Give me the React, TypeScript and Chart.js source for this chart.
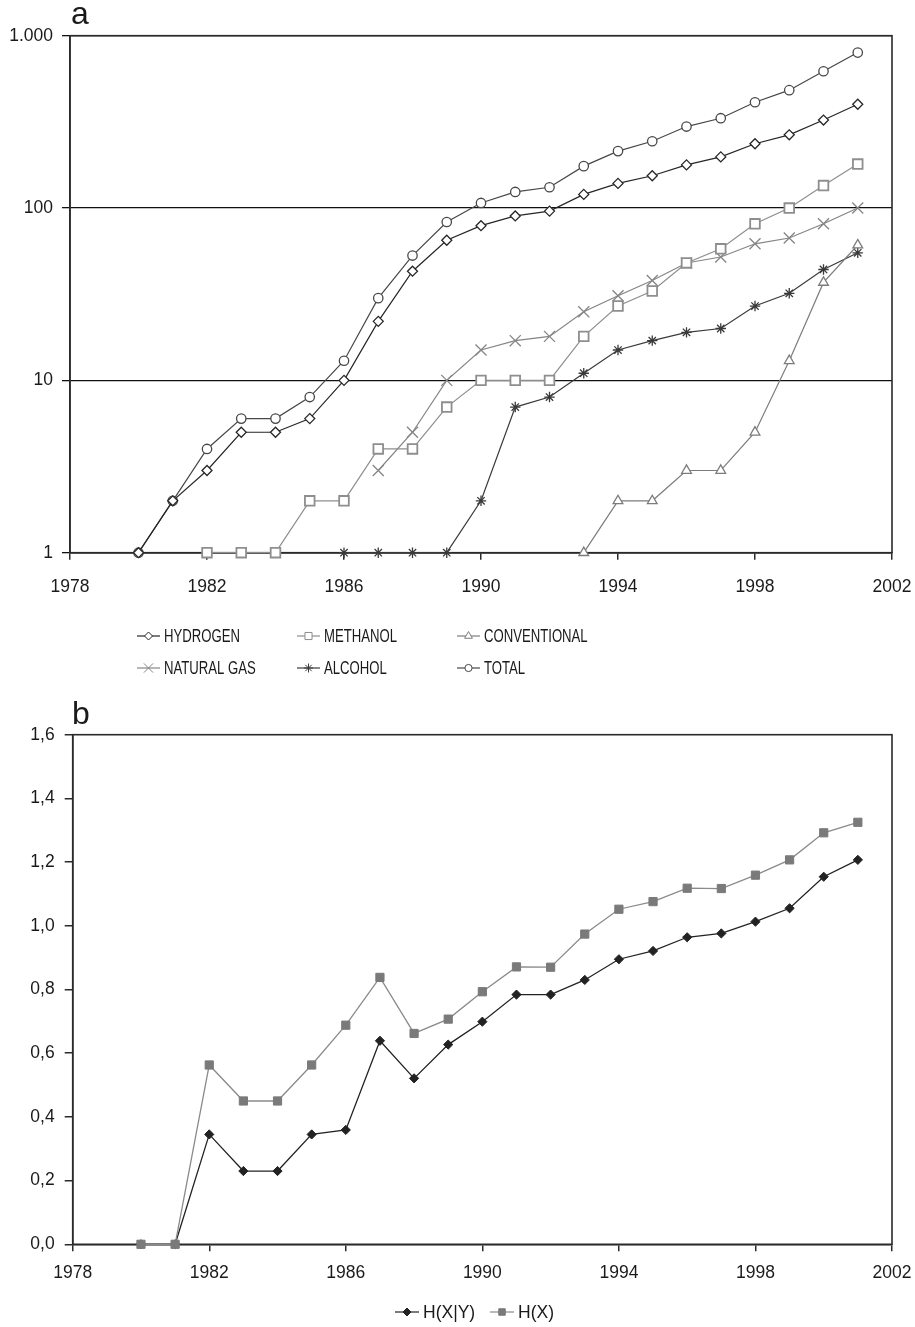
import React, { useEffect, useRef } from 'react';
import { Chart, registerables } from 'chart.js';
import { drawPoint } from 'chart.js/helpers';

Chart.register(...registerables);

// ---------- DATA ----------
const years = [1980, 1981, 1982, 1983, 1984, 1985, 1986, 1987, 1988, 1989, 1990, 1991, 1992, 1993, 1994, 1995, 1996, 1997, 1998, 1999, 2000, 2001];

const hydrogen = [1, 2, 3, 5, 5, 6, 10, 22, 43, 65, 79, 90, 96, 120, 139, 154, 178, 198, 236, 266, 324, 400];
const methanol = [null, null, 1, 1, 1, 2, 2, 4, 4, 7, 10, 10, 10, 18, 27, 33, 48, 58, 81, 100, 135, 180];
const conventional = [null, null, null, null, null, null, null, null, null, null, null, null, null, 1, 2, 2, 3, 3, 5, 13, 37, 61];
const naturalGas = [null, null, null, null, null, null, null, 3, 5, 10, 15, 17, 18, 25, 31, 38, 48, 52, 62, 67, 81, 100];
const alcohol = [null, null, null, null, null, null, 1, 1, 1, 1, 2, 7, 8, 11, 15, 17, 19, 20, 27, 32, 44, 55];
const total = [1, 2, 4, 6, 6, 8, 13, 30, 53, 83, 107, 124, 132, 175, 214, 244, 297, 332, 411, 483, 622, 798];

const hXgivenY = [0, 0, 0.345, 0.23, 0.23, 0.345, 0.359, 0.639, 0.521, 0.627, 0.699, 0.784, 0.784, 0.83, 0.895, 0.921, 0.964, 0.976, 1.013, 1.055, 1.154, 1.207];
const hX = [0, 0, 0.563, 0.45, 0.45, 0.563, 0.688, 0.838, 0.662, 0.707, 0.793, 0.871, 0.87, 0.974, 1.052, 1.076, 1.118, 1.117, 1.159, 1.207, 1.292, 1.325];

const xTickValues = [1978, 1982, 1986, 1990, 1994, 1998, 2002];
const yTickValuesA = [1, 10, 100, 1000];
const yTickLabelsA = ['1', '10', '100', '1.000'];
const yTickValuesB = [0, 0.2, 0.4, 0.6, 0.8, 1.0, 1.2, 1.4, 1.6];
const yTickLabelsB = ['0,0', '0,2', '0,4', '0,6', '0,8', '1,0', '1,2', '1,4', '1,6'];

const seriesNamesA = ['HYDROGEN', 'METHANOL', 'CONVENTIONAL', 'NATURAL GAS', 'ALCOHOL', 'TOTAL'];
const seriesNamesB = ['H(X|Y)', 'H(X)'];

// ---------- helpers ----------
const FONT = '"Liberation Sans", Arial, Helvetica, sans-serif';
const toPts = (vals: (number | null)[]) => years.map((yr, i) => ({ x: yr, y: vals[i] }));

const framePlugin = {
  id: 'frame',
  beforeDatasetsDraw(chart: any) {
    const { ctx, chartArea: a } = chart;
    ctx.save();
    ctx.strokeStyle = '#2a2a2a';
    ctx.lineWidth = 1.6;
    ctx.strokeRect(a.left, a.top, a.right - a.left, a.bottom - a.top);
    ctx.restore();
  },
};

const panelLabel = (text: string, x: number, y: number) => ({
  id: 'panelLabel' + text,
  afterDraw(chart: any) {
    const ctx = chart.ctx;
    ctx.save();
    ctx.fillStyle = '#1a1a1a';
    ctx.font = '32px ' + FONT;
    ctx.textBaseline = 'alphabetic';
    ctx.fillText(text, x, y);
    ctx.restore();
  },
});

const legendPlugin = (id: string, cols: number[], rows: number[], nCols: number, lineLen: number, textGap: number, fontSize: number, xScale: number) => ({
  id,
  afterDraw(chart: any) {
    const ctx = chart.ctx;
    chart.data.datasets.forEach((ds: any, i: number) => {
      const x0 = cols[i % nCols];
      const y = rows[Math.floor(i / nCols)];
      ctx.save();
      ctx.strokeStyle = ds.borderColor;
      ctx.lineWidth = 1.2;
      ctx.beginPath();
      ctx.moveTo(x0, y);
      ctx.lineTo(x0 + lineLen, y);
      ctx.stroke();
      ctx.fillStyle = ds.pointBackgroundColor;
      ctx.strokeStyle = ds.pointBorderColor || ds.borderColor;
      ctx.lineWidth = 1;
      drawPoint(ctx, { pointStyle: ds.pointStyle, rotation: 0, radius: ds.legendRadius, borderWidth: 1 }, x0 + lineLen / 2, y);
      ctx.fillStyle = '#1a1a1a';
      ctx.font = fontSize + 'px ' + FONT;
      ctx.textBaseline = 'middle';
      ctx.textAlign = 'left';
      ctx.translate(x0 + lineLen + textGap, y + 1);
      ctx.scale(xScale, 1);
      ctx.fillText(ds.label, 0, 0);
      ctx.restore();
    });
  },
});

const xScaleOpts = (pad: number, h: number) => ({
  type: 'linear',
  min: 1978,
  max: 2002,
  afterBuildTicks: (s: any) => { s.ticks = xTickValues.map((v) => ({ value: v })); },
  afterFit: (s: any) => { s.height = h; s.paddingLeft = 0; s.paddingRight = 0; },
  ticks: { callback: (v: any) => String(v), font: { family: FONT, size: 17.5 }, color: '#1a1a1a', padding: pad, maxRotation: 0, autoSkip: false },
  grid: { drawOnChartArea: false, drawTicks: true, tickLength: 7, color: '#2a2a2a', lineWidth: 1.5 },
  border: { display: true, color: '#2a2a2a', width: 1.6 },
});

function buildA(canvas: HTMLCanvasElement) {
  const mk = (i: number, vals: any[], color: string, style: string, r: number, lr: number, bw: number, fill: string) => ({
    label: seriesNamesA[i],
    data: toPts(vals),
    borderColor: color,
    borderWidth: 1.2,
    pointStyle: style,
    pointRadius: r,
    pointBorderColor: color,
    pointBackgroundColor: fill,
    pointBorderWidth: bw,
    legendRadius: lr,
    clip: false,
    spanGaps: false,
    tension: 0,
  });
  return new Chart(canvas, {
    type: 'line',
    data: {
      datasets: [
        mk(0, hydrogen, '#262626', 'rectRot', 5, 4, 1.3, '#ffffff'),
        mk(1, methanol, '#8e8e8e', 'rect', 6.8, 5, 1.8, '#ffffff'),
        mk(2, conventional, '#7c7c7c', 'triangle', 5.6, 4.5, 1.3, '#ffffff'),
        mk(3, naturalGas, '#858585', 'crossRot', 7.8, 6.5, 1.3, '#ffffff'),
        mk(4, alcohol, '#3a3a3a', 'star', 5.2, 4.5, 1.3, '#ffffff'),
        mk(5, total, '#474747', 'circle', 4.7, 3.6, 1.3, '#ffffff'),
      ] as any,
    },
    options: {
      animation: false,
      responsive: false,
      maintainAspectRatio: false,
      events: [],
      layout: { padding: { top: 35.7, left: 0, right: 23, bottom: 97.3 } },
      plugins: { legend: { display: false }, tooltip: { enabled: false } },
      scales: {
        x: xScaleOpts(17, 50) as any,
        y: {
          type: 'logarithmic',
          min: 1,
          max: 1000,
          afterBuildTicks: (s: any) => { s.ticks = yTickValuesA.map((v) => ({ value: v })); },
          afterFit: (s: any) => { s.width = 70; },
          ticks: { callback: (v: any) => yTickLabelsA[yTickValuesA.indexOf(Number(v))], font: { family: FONT, size: 17.5 }, color: '#1a1a1a', padding: 9, autoSkip: false },
          grid: { drawOnChartArea: true, drawTicks: true, tickLength: 8, color: '#111111', lineWidth: 1.3 },
          border: { display: true, color: '#2a2a2a', width: 1.6 },
        },
      },
    } as any,
    plugins: [framePlugin, panelLabel('a', 71, 24), legendPlugin('legendA', [137, 297, 457], [636, 668], 3, 23, 4, 18, 0.73)],
  });
}

function buildB(canvas: HTMLCanvasElement) {
  return new Chart(canvas, {
    type: 'line',
    data: {
      datasets: [
        {
          label: seriesNamesB[0],
          data: toPts(hXgivenY),
          borderColor: '#222222',
          borderWidth: 1.3,
          pointStyle: 'rectRot',
          pointRadius: 4.6,
          pointBackgroundColor: '#222222',
          pointBorderColor: '#222222',
          pointBorderWidth: 1,
          legendRadius: 4,
          clip: false,
          order: 1,
          tension: 0,
        },
        {
          label: seriesNamesB[1],
          data: toPts(hX),
          borderColor: '#8a8a8a',
          borderWidth: 1.3,
          pointStyle: 'rect',
          pointRadius: 5.8,
          pointBackgroundColor: '#7a7a7a',
          pointBorderColor: '#7a7a7a',
          pointBorderWidth: 1,
          legendRadius: 4.6,
          clip: false,
          order: 0,
          tension: 0,
        },
      ] as any,
    },
    options: {
      animation: false,
      responsive: false,
      maintainAspectRatio: false,
      events: [],
      layout: { padding: { top: 34.7, left: 0, right: 23, bottom: 37.7 } },
      plugins: { legend: { display: false }, tooltip: { enabled: false } },
      scales: {
        x: xScaleOpts(11, 45) as any,
        y: {
          type: 'linear',
          min: 0,
          max: 1.6,
          afterBuildTicks: (s: any) => { s.ticks = yTickValuesB.map((v) => ({ value: v })); },
          afterFit: (s: any) => { s.width = 72.7; },
          ticks: { callback: (v: any) => yTickLabelsB[yTickValuesB.findIndex((t) => Math.abs(t - Number(v)) < 1e-6)], font: { family: FONT, size: 17.5 }, color: '#1a1a1a', padding: 10, autoSkip: false },
          grid: { drawOnChartArea: false, drawTicks: true, tickLength: 8, color: '#2a2a2a', lineWidth: 1.5 },
          border: { display: true, color: '#2a2a2a', width: 1.6 },
        },
      },
    } as any,
    plugins: [framePlugin, panelLabel('b', 72, 24), legendPlugin('legendB', [395, 490], [612], 2, 24, 4, 17.5, 1)],
  });
}

export default function App() {
  const refA = useRef<HTMLCanvasElement | null>(null);
  const refB = useRef<HTMLCanvasElement | null>(null);
  useEffect(() => {
    Chart.defaults.font.family = FONT;
    const a = buildA(refA.current as HTMLCanvasElement);
    const b = buildB(refB.current as HTMLCanvasElement);
    return () => { a.destroy(); b.destroy(); };
  }, []);
  return (
    <div style={{ position: 'absolute', left: 0, top: 0, width: 915, height: 1327, background: '#ffffff' }}>
      <canvas ref={refA} width={915} height={700} style={{ position: 'absolute', left: 0, top: 0, width: 915, height: 700 }} />
      <canvas ref={refB} width={915} height={627} style={{ position: 'absolute', left: 0, top: 700, width: 915, height: 627 }} />
    </div>
  );
}
